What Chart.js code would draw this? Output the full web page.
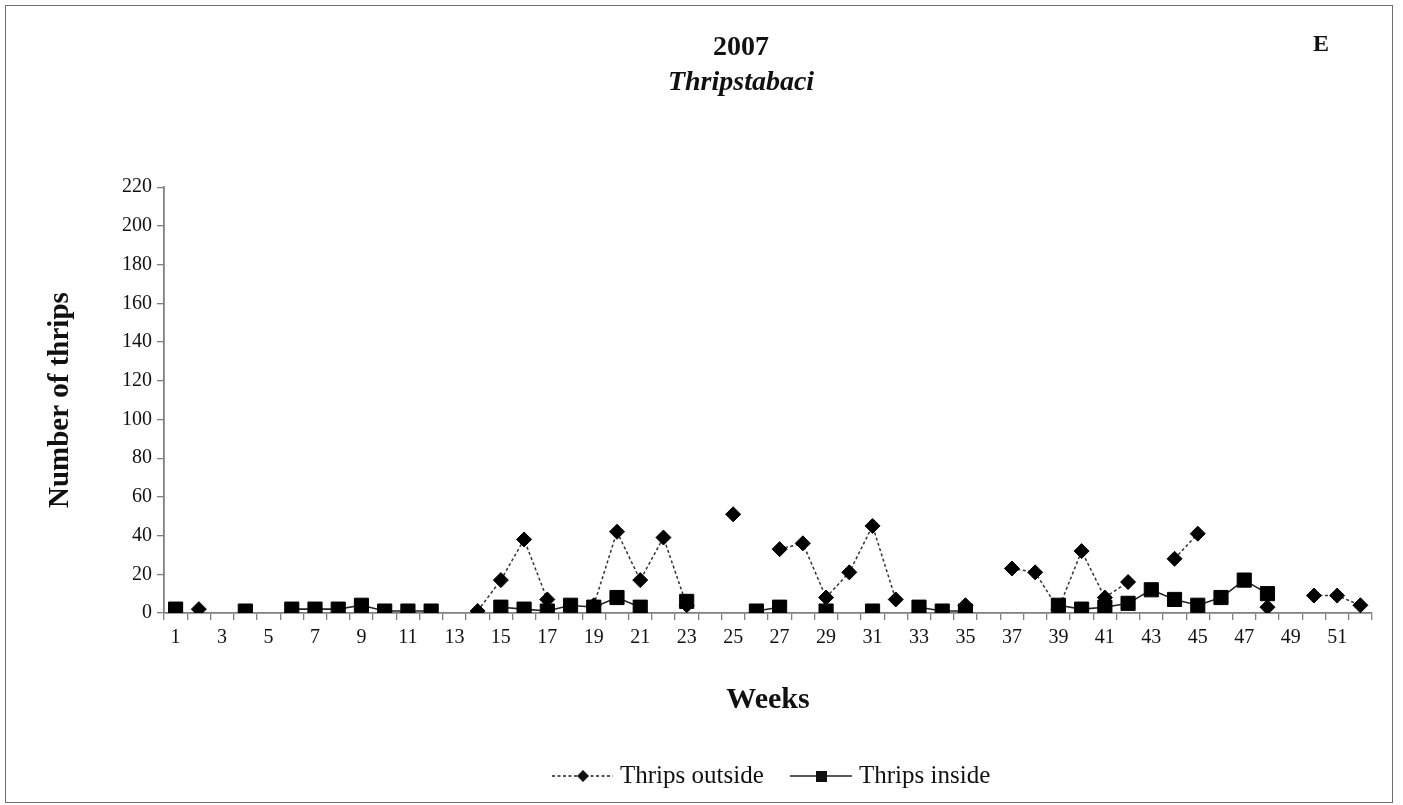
<!DOCTYPE html>
<html>
<head>
<meta charset="utf-8">
<script src="https://cdn.jsdelivr.net/npm/chart.js@4.4.1/dist/chart.umd.min.js"></script>
<style>
  body { margin: 0; background: #fff; }
  #wrap { position: relative; width: 1403px; height: 805px; }
  #frame { position: absolute; left: 5px; top: 5px; width: 1386px; height: 796px; border: 1.5px solid #6e6e6e; pointer-events: none; }
  #tag { position: absolute; left: 1313px; top: 30px; font: bold 24px "Liberation Serif", serif; color: #111; }
</style>
</head>
<body>
<div id="wrap">
  <canvas id="chart" width="1403" height="805"></canvas>
  <div id="frame"></div>
  <div id="tag">E</div>
</div>
<script>
const weeks = [1, 2, 3, 4, 5, 6, 7, 8, 9, 10, 11, 12, 13, 14, 15, 16, 17, 18, 19, 20,
  21, 22, 23, 24, 25, 26, 27, 28, 29, 30, 31, 32, 33, 34, 35, 36, 37, 38, 39, 40,
  41, 42, 43, 44, 45, 46, 47, 48, 49, 50, 51, 52];

// weekly counts, null = no sample
const thripsOutside = [null, 2, null, null, null, null, null, null, null, null,
  null, null, null, 1, 17, 38, 7, null, 4, 42,
  17, 39, 4, null, 51, null, 33, 36, 8, 21,
  45, 7, null, null, 4, null, 23, 21, 2, 32,
  8, 16, null, 28, 41, null, null, 3, null, 9,
  9, 4];

const thripsInside = [2, null, null, 1, null, 2, 2, 2, 4, 1,
  1, 1, null, null, 3, 2, 1, 4, 3, 8,
  3, null, 6, null, null, 1, 3, null, 1, null,
  1, null, 3, 1, 1, null, null, null, 4, 2,
  3, 5, 12, 7, 4, 8, 17, 10, null, null,
  null, null];

const yTicks = { min: 0, max: 220, step: 20 };

const serif = '"Liberation Serif", "Times New Roman", serif';
const axisGrey = '#808080';

// legend drawn like the Excel one: line with marker in the middle
const lineLegend = {
  id: 'lineLegend',
  afterDraw(chart) {
    const ctx = chart.ctx;
    const y = 776;
    ctx.save();
    ctx.strokeStyle = '#222';
    ctx.fillStyle = '#111';
    ctx.lineWidth = 1.3;

    ctx.setLineDash([3, 2.5]);
    ctx.beginPath();
    ctx.moveTo(552, y);
    ctx.lineTo(613, y);
    ctx.stroke();
    ctx.setLineDash([]);
    ctx.beginPath();
    ctx.moveTo(583, y - 6);
    ctx.lineTo(589, y);
    ctx.lineTo(583, y + 6);
    ctx.lineTo(577, y);
    ctx.closePath();
    ctx.fill();

    ctx.beginPath();
    ctx.moveTo(790, y);
    ctx.lineTo(852, y);
    ctx.stroke();
    ctx.fillRect(816, y - 5, 11, 11);

    ctx.font = '25px ' + serif;
    ctx.textBaseline = 'middle';
    ctx.textAlign = 'left';
    ctx.fillText('Thrips outside', 620, y);
    ctx.fillText('Thrips inside', 859, y);
    ctx.restore();
  }
};

new Chart(document.getElementById('chart'), {
  type: 'line',
  data: {
    labels: weeks,
    datasets: [
      {
        label: 'Thrips outside',
        data: thripsOutside,
        order: 1,
        borderColor: '#333',
        borderWidth: 1.5,
        borderDash: [3, 2.5],
        pointStyle: 'rectRot',
        pointRadius: 7.5,
        pointBackgroundColor: '#000',
        pointBorderColor: '#000',
        pointBorderWidth: 1,
        spanGaps: false,
        tension: 0
      },
      {
        label: 'Thrips inside',
        data: thripsInside,
        order: 0,
        borderColor: '#222',
        borderWidth: 1.6,
        pointStyle: 'rect',
        pointRadius: 10,
        pointBackgroundColor: '#000',
        pointBorderColor: '#000',
        pointBorderWidth: 1,
        spanGaps: false,
        tension: 0
      }
    ]
  },
  options: {
    responsive: false,
    animation: false,
    events: [],
    layout: {
      // wide left padding so the title centres where the original does
      padding: { top: 30, left: 110, right: 31, bottom: 80 }
    },
    plugins: {
      legend: { display: false },
      tooltip: { enabled: false },
      title: {
        display: true,
        text: '2007',
        color: '#111',
        font: { family: serif, size: 28, weight: 'bold' },
        padding: { top: 1, bottom: 0 }
      },
      subtitle: {
        display: true,
        text: 'Thripstabaci',
        color: '#111',
        font: { family: serif, size: 28, weight: 'bold', style: 'italic' },
        padding: { top: 1, bottom: 88 }
      }
    },
    scales: {
      x: {
        type: 'category',
        offset: true,
        afterFit(scale) { scale.height = 112; },
        grid: {
          offset: true,
          drawOnChartArea: false,
          drawTicks: true,
          tickLength: 7,
          color: axisGrey,
          lineWidth: 1.3
        },
        border: { color: axisGrey, width: 1.8 },
        ticks: {
          autoSkip: false,
          maxRotation: 0,
          padding: 6,
          color: '#111',
          font: { family: serif, size: 20 },
          callback(value, index) {
            return index % 2 === 0 ? weeks[index] : '';
          }
        },
        title: {
          display: true,
          text: 'Weeks',
          color: '#111',
          font: { family: serif, size: 30, weight: 'bold' },
          padding: { top: 0, bottom: 7 }
        }
      },
      y: {
        min: yTicks.min,
        max: yTicks.max,
        afterFit(scale) { scale.width = 54; },
        grid: {
          drawOnChartArea: false,
          drawTicks: true,
          tickLength: 7,
          color: axisGrey,
          lineWidth: 1.3
        },
        border: { color: axisGrey, width: 1.8 },
        ticks: {
          stepSize: yTicks.step,
          padding: 5,
          color: '#111',
          font: { family: serif, size: 20 }
        },
        title: {
          display: true,
          text: 'Number of thrips',
          color: '#111',
          font: { family: serif, size: 29, weight: 'bold' },
          // pulled left out of the narrow axis box
          padding: { top: -67, bottom: 0 }
        }
      }
    }
  },
  plugins: [lineLegend]
});
</script>
</body>
</html>
